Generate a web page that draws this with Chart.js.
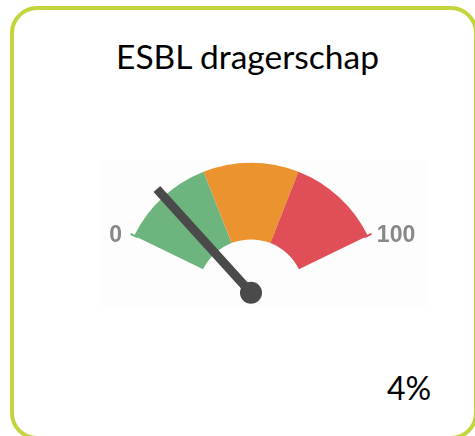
<!DOCTYPE html>
<html>
<head>
<meta charset="utf-8">
<script src="https://cdn.jsdelivr.net/npm/chart.js@4"></script>
<style>
  html, body { margin: 0; padding: 0; background: #fff; overflow: hidden; }
  body { width: 475px; height: 436px; position: relative; }
  .card {
    position: absolute; left: 10px; top: 6px; width: 468px; height: 434px;
    box-sizing: border-box; border: 4px solid #c4d43c; border-radius: 27px;
  }
  .panel { position: absolute; left: 99px; top: 160px; width: 329px; height: 146px; background: #fdfdfd; }
  .title {
    position: absolute; left: 0; width: 495px; top: 36px; text-align: center;
    font-family: Lato, sans-serif; font-size: 33.5px; line-height: 40px; color: #000;
  }
  .value {
    position: absolute; left: 387px; top: 368px;
    font-family: Lato, sans-serif; font-size: 32px; line-height: 40px; color: #000;
  }
  #gauge { position: absolute; left: 0; top: 0; }
</style>
</head>
<body>
<div class="card"></div>
<div class="panel"></div>
<div class="title" id="title"></div>
<div class="value" id="value"></div>
<canvas id="gauge" width="475" height="436"></canvas>
<script>
// data
const chartTitle = 'ESBL dragerschap';
const bandNames = ['laag', 'midden', 'hoog'];
const bandSizes = [33.3, 33.4, 33.3];   // share of the 0-100 scale
const scaleMin = 0;
const scaleMax = 100;
const tickLabels = ['0', '100'];
const needleValue = 17;                  // where the needle points
const valueText = '4%';

const bandColors = ['#6db47e', '#eb932f', '#e04e57'];

document.getElementById('title').textContent = chartTitle;
document.getElementById('value').textContent = valueText;

const gaugeDecor = {
  id: 'gaugeDecor',
  afterDatasetsDraw(chart) {
    const arcs = chart.getDatasetMeta(0).data;
    if (!arcs.length) return;
    const c = chart.ctx;
    const first = arcs[0], last = arcs[arcs.length - 1];
    const cx = first.x, cy = first.y, r = first.outerRadius;
    const a0 = first.startAngle, a1 = last.endAngle;

    // small ticks at both ends
    [[a0, bandColors[0]], [a1, bandColors[bandColors.length - 1]]].forEach(([a, col]) => {
      c.save();
      c.strokeStyle = col;
      c.lineWidth = 2;
      c.beginPath();
      c.moveTo(cx + (r - 4) * Math.cos(a), cy + (r - 4) * Math.sin(a));
      c.lineTo(cx + (r + 4) * Math.cos(a), cy + (r + 4) * Math.sin(a));
      c.stroke();
      c.restore();
    });

    // end labels
    c.save();
    c.font = 'bold 23px "Liberation Sans", Arial, sans-serif';
    c.fillStyle = '#888888';
    c.textBaseline = 'middle';
    const lx = cx + r * Math.cos(a0), ly = cy + r * Math.sin(a0);
    const rx = cx + r * Math.cos(a1), ry = cy + r * Math.sin(a1);
    c.textAlign = 'right';
    c.fillText(tickLabels[0], lx - 12, ly);
    c.textAlign = 'left';
    c.fillText(tickLabels[1], rx + 9, ry);
    c.restore();

    // needle
    const t = (needleValue - scaleMin) / (scaleMax - scaleMin);
    const a = a0 + t * (a1 - a0);
    const len = r * 1.077;
    c.save();
    c.strokeStyle = '#4a4a4a';
    c.fillStyle = '#4a4a4a';
    c.lineWidth = 9;
    c.lineCap = 'butt';
    c.beginPath();
    c.moveTo(cx, cy);
    c.lineTo(cx + len * Math.cos(a), cy + len * Math.sin(a));
    c.stroke();
    c.beginPath();
    c.arc(cx, cy, 11, 0, Math.PI * 2);
    c.fill();
    c.restore();
  }
};

new Chart(document.getElementById('gauge').getContext('2d'), {
  type: 'doughnut',
  data: {
    labels: bandNames,
    datasets: [{
      data: bandSizes,
      backgroundColor: bandColors,
      borderWidth: 0,
    }]
  },
  options: {
    responsive: false,
    animation: false,
    rotation: -64,
    circumference: 128,
    cutout: '41%',
    radius: 130,
    layout: { padding: { left: 40, right: 13, top: 10, bottom: 14 } },
    plugins: {
      legend: { display: false },
      tooltip: { enabled: false },
    },
  },
  plugins: [gaugeDecor],
});
</script>
</body>
</html>
